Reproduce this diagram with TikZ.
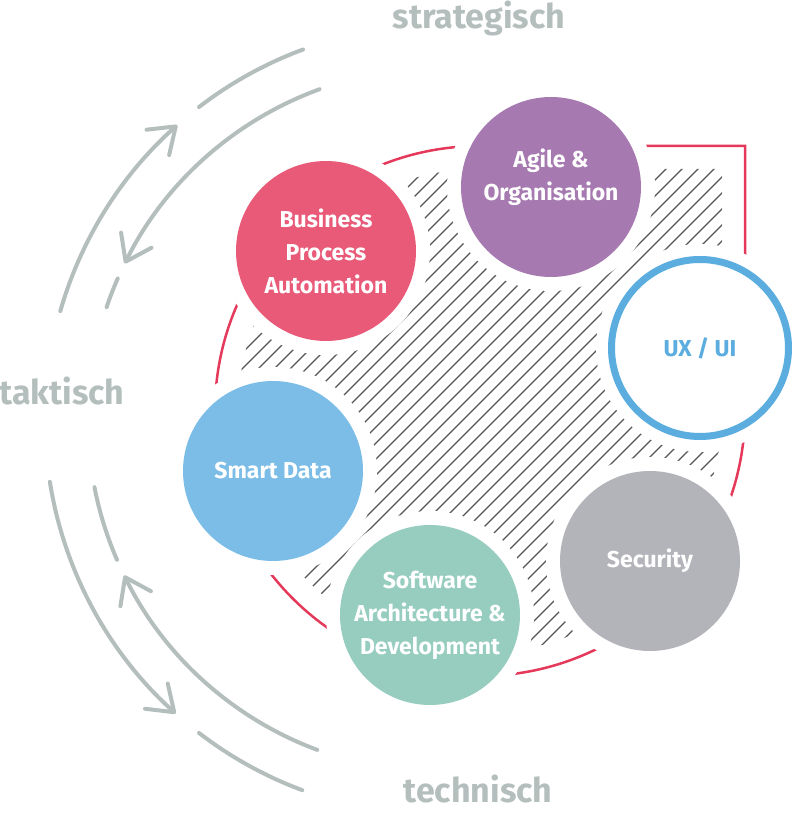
\documentclass[tikz,border=0pt]{standalone}
\usepackage{fontspec}
\setmainfont{Fira Sans}
\usetikzlibrary{arrows.meta}

\definecolor{bpared}{HTML}{E85A78}
\definecolor{agilepurple}{HTML}{A67AB0}
\definecolor{uxblue}{HTML}{5BADE0}
\definecolor{datablue}{HTML}{7CBDE8}
\definecolor{devgreen}{HTML}{96CDBF}
\definecolor{secgrey}{HTML}{B3B3BA}
\definecolor{ringred}{HTML}{E5395B}
\definecolor{arcgrey}{HTML}{B4BFBD}
\definecolor{hatchgrey}{HTML}{555555}

\begin{document}
\begin{tikzpicture}[x=1pt, y=1pt,
    topic/.style = {circle, minimum size=180pt, inner sep=0pt, text=white, align=center,
        font=\bfseries\fontsize{23}{33}\selectfont, preaction={draw=white, line width=28pt}},
    side/.style = {font=\bfseries\fontsize{34}{38}\selectfont, text=arcgrey, anchor=base},
    sweep/.style = {draw=arcgrey, line width=4pt, line cap=round},
    arrowed/.style = {-{Straight Barb[length=24pt, width=34pt, round]}},
    ring/.style = {draw=ringred, line width=2.5pt},
    hatchline/.style = {draw=hatchgrey, line width=1.3pt}]
    \useasboundingbox (0,0) rectangle (800,817);

    % arcs on the left
    \coordinate (hub) at (440,397);
    \draw[sweep, arrowed] (hub) ++(164:395) arc[start angle=164, end angle=131.7, radius=395];
    \draw[sweep] (hub) ++(127.6:395) arc[start angle=127.6, end angle=110.3, radius=395];
    \draw[sweep, arrowed] (hub) ++(110:352) arc[start angle=110, end angle=153.6, radius=352];
    \draw[sweep] (hub) ++(156.3:352) arc[start angle=156.3, end angle=161.3, radius=352];
    \draw[sweep, arrowed] (hub) ++(189:395) arc[start angle=189, end angle=228, radius=395];
    \draw[sweep] (hub) ++(232.4:395) arc[start angle=232.4, end angle=249.6, radius=395];
    \draw[sweep, arrowed] (hub) ++(249.6:352) arc[start angle=249.6, end angle=206.2, radius=352];
    \draw[sweep] (hub) ++(191:352) arc[start angle=191, end angle=203.4, radius=352];

    % hatched field
    \begin{scope}
        \clip (480,648) -- (722,648) -- (722,406) arc[start angle=0, end angle=-270, radius=242] -- cycle;
        \foreach \c in {-430,-414,...,580}
            \draw[hatchline] (\c+150,150) -- (\c+700,700);
    \end{scope}
    \draw[ring] (480,671) -- (745,671) -- (745,406) arc[start angle=0, end angle=-270, radius=265] -- cycle;

    % topics
    \node[topic, fill=bpared] (bpa) at (326,566) {Business\\Process\\Automation};
    \node[topic, fill=agilepurple,
        label={[font=\bfseries\fontsize{23}{33}\selectfont, text=white, align=center, yshift=10pt]center:Agile \&\\Organisation}]
        (agile) at (551,630) {};
    \node[topic, fill=white, draw=uxblue, line width=7pt, minimum size=177pt, text=uxblue,
        preaction={draw=white, line width=31pt}] (ux) at (700,469) {UX / UI};
    \node[topic, fill=datablue] (data) at (273,346) {Smart Data};
    \node[topic, fill=devgreen] (dev) at (430,202) {Software\\Architecture \&\\Development};
    \node[topic, fill=secgrey] (sec) at (650,256) {Security};

    \node[side] (strat) at (479,788) {strategisch};
    \node[side] (takt) at (62,412) {taktisch};
    \node[side] (tech) at (478,14) {technisch};
\end{tikzpicture}
\end{document}
